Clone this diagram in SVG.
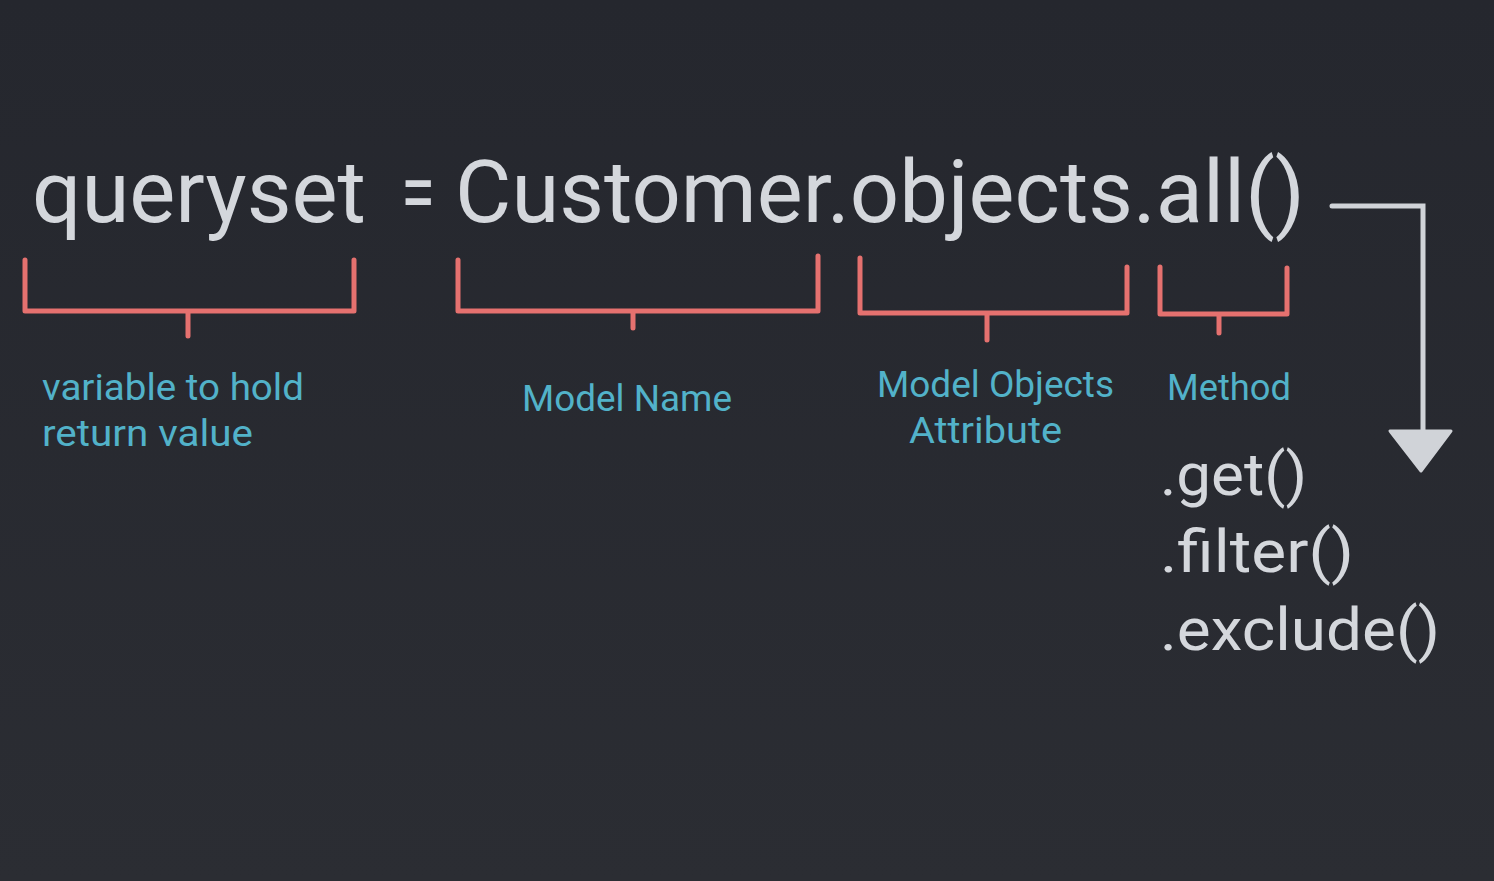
<svg xmlns="http://www.w3.org/2000/svg" width="1494" height="881" viewBox="0 0 1494 881">
<defs>
<linearGradient id="bg" x1="0" y1="0" x2="0" y2="1">
<stop offset="0" stop-color="#25272e"/>
<stop offset="1" stop-color="#2b2d33"/>
</linearGradient>
<style>
.code{font-family:Roboto,"Liberation Sans",sans-serif;fill:#d4d7dc;}
.lbl{font-family:Roboto,"Liberation Sans",sans-serif;fill:#52b2c9;font-size:37px;}
.br{fill:none;stroke:#e5716f;stroke-width:5;stroke-linecap:round;stroke-linejoin:round;}
.arr{fill:none;stroke:#d0d3d8;stroke-width:5;stroke-linecap:round;}
</style>
</defs>
<rect width="1494" height="881" fill="url(#bg)"/>
<g id="code-line">
<text class="code" x="32" y="222" font-size="88" textLength="334" lengthAdjust="spacingAndGlyphs">queryset</text>
<text class="code" x="401" y="222" font-size="88" textLength="34" lengthAdjust="spacingAndGlyphs">=</text>
<text class="code" x="455" y="222" font-size="88" textLength="850" lengthAdjust="spacingAndGlyphs">Customer.objects.all()</text>
</g>
<g id="bracket-variable">
<path class="br" d="M25 260 V311 H354 V260 M188 311 V336"/>
<text class="lbl" x="42" y="400" textLength="262" lengthAdjust="spacingAndGlyphs">variable to hold</text>
<text class="lbl" x="42" y="446" textLength="211" lengthAdjust="spacingAndGlyphs">return value</text>
</g>
<g id="bracket-model">
<path class="br" d="M458 260 V311 H818 V256 M633 311 V328"/>
<text class="lbl" x="522" y="411" textLength="210" lengthAdjust="spacingAndGlyphs">Model Name</text>
</g>
<g id="bracket-objects">
<path class="br" d="M860 258 V313 H1127 V267 M987 313 V340"/>
<text class="lbl" x="877" y="397" textLength="237" lengthAdjust="spacingAndGlyphs">Model Objects</text>
<text class="lbl" x="909" y="443" textLength="153" lengthAdjust="spacingAndGlyphs">Attribute</text>
</g>
<g id="bracket-method">
<path class="br" d="M1160 267 V314 H1287 V268 M1219 314 V333"/>
<text class="lbl" x="1167" y="400" textLength="124" lengthAdjust="spacingAndGlyphs">Method</text>
</g>
<g id="methods-list">
<text class="code" x="1160" y="495" font-size="60" textLength="147" lengthAdjust="spacingAndGlyphs">.get()</text>
<text class="code" x="1160" y="572" font-size="60" textLength="194" lengthAdjust="spacingAndGlyphs">.filter()</text>
<text class="code" x="1160" y="650" font-size="60" textLength="280" lengthAdjust="spacingAndGlyphs">.exclude()</text>
</g>
<g id="connectors">
<path class="arr" d="M1332 206 H1423 V434"/>
<polygon points="1390,431 1451,431 1421,471" fill="#d0d3d8" stroke="#d0d3d8" stroke-width="3" stroke-linejoin="round"/>
</g>
</svg>
